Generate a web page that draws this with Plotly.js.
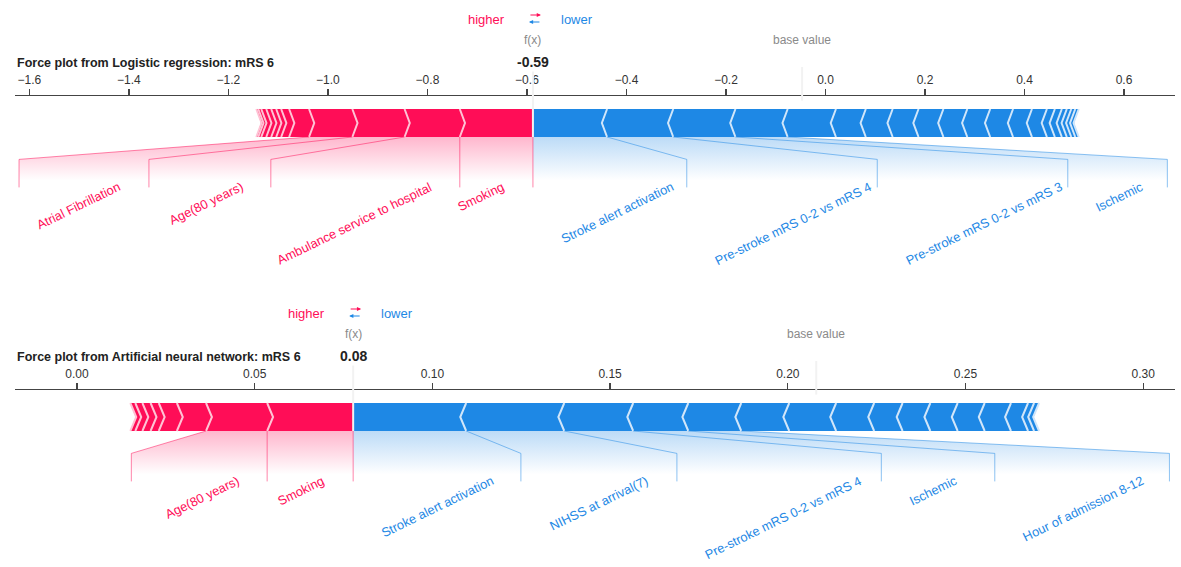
<!DOCTYPE html>
<html><head><meta charset="utf-8">
<script src="https://cdn.plot.ly/plotly-3.0.1.min.js"></script>
<style>html,body{margin:0;padding:0;background:#fff}#chart{width:1181px;height:567px}</style>
</head><body><div id="chart"></div>
<script>
// ---------------- data ----------------
const lrTitle = 'Force plot from Logistic regression: mRS 6';
const lrBase = -0.047;
const lrPosVals = [0.147, 0.111, 0.105, 0.087, 0.040, 0.016, 0.010, 0.010, 0.010, 0.010, 0.006, 0.004];
const lrPosNames = ['Smoking', 'Ambulance service to hospital', 'Age(80 years)', 'Atrial Fibrillation'];
const lrNegVals = [0.149, 0.133, 0.125, 0.105, 0.097, 0.060, 0.054, 0.052, 0.050, 0.048, 0.046, 0.046, 0.038, 0.030, 0.016, 0.014, 0.010, 0.009, 0.008, 0.007];
const lrNegNames = ['Stroke alert activation', 'Pre-stroke mRS 0-2 vs mRS 4', 'Pre-stroke mRS 0-2 vs mRS 3', 'Ischemic'];

const annTitle = 'Force plot from Artificial neural network: mRS 6';
const annBase = 0.208;
const annPosVals = [0.0242, 0.0172, 0.0082, 0.0051, 0.0023, 0.0023, 0.0020, 0.0014];
const annPosNames = ['Smoking', 'Age(80 years)'];
const annNegVals = [0.0318, 0.0276, 0.0194, 0.0155, 0.0149, 0.0135, 0.0132, 0.0107, 0.0080, 0.0078, 0.0077, 0.0076, 0.0074, 0.0048, 0.0017, 0.0014];
const annNegNames = ['Stroke alert activation', 'NIHSS at arrival(7)', 'Pre-stroke mRS 0-2 vs mRS 4', 'Ischemic', 'Hour of admission 8-12'];

// ---------------- style / layout ----------------
const W = 1181, H = 567;
const FONT = '"Liberation Sans", Arial, Helvetica, sans-serif';
const RED = '#FF0D57', BLUE = '#1E88E5';
const RED_SEP = '#FFC3D5', BLUE_SEP = '#D1E6FA';
const RED_LINE = 'rgba(255,13,87,0.5)', BLUE_LINE = 'rgba(30,136,229,0.5)';
const RED_SHADE = 'rgb(255,182,205)', BLUE_SHADE = 'rgb(188,219,247)';
const PX_L = 15, PX_R = 1175;   // axis extent in px
const YS = 280;                  // px per y unit
const LF = 12.8, ANG = 26;       // label font size / rotation
const REG_K = 0.748;             // label box growth per px of text
const TEXT_GAP = 26;             // px between chain start and label box
const WB = 0.1;                  // bar thickness (y units)

const panels = [
  {title: lrTitle, base: lrBase, pos: lrPosVals, posNames: lrPosNames, neg: lrNegVals, negNames: lrNegNames,
   range: [-1.629, 0.7025], dtick: 0.2, fmt: '.1f', top: 0, bottom: 283, zeroPx: 137, wc: -4, titleY: 63},
  {title: annTitle, base: annBase, pos: annPosVals, posNames: annPosNames, neg: annNegVals, negNames: annNegNames,
   range: [-0.01745, 0.30895], dtick: 0.05, fmt: '.2f', top: 294, bottom: 567, zeroPx: 431, wc: 3, titleY: 357}
];

const cv = document.createElement('canvas').getContext('2d');
function textW(s, size) {
  cv.font = size + 'px "Liberation Sans", Arial, sans-serif';
  const m = cv.measureText(s).width;
  return m > 0 ? m : s.length * size * 0.5;
}
const sum = a => a.reduce((s, v) => s + v, 0);

const traces = [];
const annotations = [];
const layout = {
  width: W, height: H, margin: {l: 0, r: 0, t: 0, b: 0},
  paper_bgcolor: '#fff', plot_bgcolor: 'rgba(0,0,0,0)', showlegend: false,
  font: {family: FONT, size: 12, color: '#333'},
  annotations: annotations, shapes: []
};

panels.forEach((p, i) => {
  const sfx = i === 0 ? '' : '2';
  const xa = 'x' + sfx, ya = 'y' + sfx;
  const pxu = (PX_R - PX_L) / (p.range[1] - p.range[0]);
  const yTop = (p.zeroPx - p.top) / YS, yBot = (p.zeroPx - p.bottom) / YS;

  layout['xaxis' + sfx] = {
    domain: [PX_L / W, PX_R / W], range: p.range, anchor: 'free',
    position: 1 - (p.zeroPx - 0.15 * YS) / H, side: 'top',
    showline: true, linecolor: '#444', linewidth: 1.2,
    ticks: 'outside', ticklen: 6, tickwidth: 1.2, tickcolor: '#444',
    tick0: 0, dtick: p.dtick, tickformat: p.fmt,
    showgrid: false, zeroline: false, fixedrange: true, layer: 'below traces',
    tickfont: {family: FONT, size: 12, color: '#333'}
  };
  layout['yaxis' + sfx] = {
    domain: [1 - p.bottom / H, 1 - p.top / H], range: [yBot, yTop],
    visible: false, fixedrange: true, showgrid: false, zeroline: false
  };

  const sumPos = sum(p.pos), sumNeg = sum(p.neg);
  const out = p.base + sumPos - sumNeg;
  const posCum = []; let v = out; p.pos.forEach(d => { v -= d; posCum.push(v); });
  const negCum = []; v = out; p.neg.forEach(d => { v += d; negCum.push(v); });

  const padX = 0.2 * Math.max(sumPos, sumNeg);
  const minX = Math.min(out - sumPos, p.base) - padX;
  const maxX = Math.max(out + sumNeg, p.base) + padX;
  const ind = (maxX - minX) / 200;
  const off = 0.04 * (sumPos + sumNeg);   // label offset, data units

  function bars(cum, sign) {
    const xs = [], ys = [], sx = [], sy = [];
    let pre = out;
    cum.forEach((c, k) => {
      let L, R, si, sp;
      if (sign > 0) { L = c; R = pre; si = ind; sp = L; }
      else { L = pre; R = c; si = -ind; sp = R; }
      pre = c;
      let pts;
      if (k === 0) {
        pts = sign > 0 ? [[L, 0], [R, 0], [R, WB], [L, WB], [L + si, WB / 2]]
                       : [[R, 0], [L, 0], [L, WB], [R, WB], [R + si, WB / 2]];
      } else {
        pts = [[L, 0], [R, 0], [R + si * 0.9, WB / 2], [R, WB], [L, WB], [L + si * 0.9, WB / 2]];
      }
      pts.forEach(q => { xs.push(q[0]); ys.push(q[1]); });
      xs.push(null); ys.push(null);
      sx.push(sp, sp + si, sp, null); sy.push(0, WB / 2, WB, null);
    });
    return {xs, ys, sx, sy};
  }

  function labels(cum, names, sign, color, shadeColor) {
    const lx = [], ly = [];
    let start = out, pre = out, boxEnd = out;
    if (sign > 0) { lx.push(out, out, null); ly.push(0, -0.18, null); }
    names.forEach((nm, k) => {
      const val = cum[k];
      const boxW = (REG_K * textW(nm, LF) + p.wc) / pxu;
      annotations.push({
        x: start - sign * TEXT_GAP / pxu, y: -0.15, xref: xa, yref: ya, text: nm, showarrow: false,
        textangle: -ANG, xanchor: sign > 0 ? 'right' : 'left', yanchor: 'top',
        borderpad: 0, borderwidth: 0, font: {family: FONT, size: LF, color: color}
      });
      const far = start - sign * (off + boxW);
      if (sign * far > sign * val) {
        lx.push(val, val, null); ly.push(0, -0.18, null);
        start = val; boxEnd = val;
      } else {
        boxEnd = far - sign * off;
        lx.push(val, boxEnd, boxEnd, null); ly.push(0, -0.08, -0.18, null);
        start = boxEnd;
      }
      pre = val;
    });
    traces.push({
      type: 'scatter', mode: 'lines', xaxis: xa, yaxis: ya, hoverinfo: 'skip',
      x: [out, pre, boxEnd, boxEnd, out, out], y: [0, 0, -0.08, -0.2, -0.2, 0],
      fill: 'toself', line: {width: 0, color: 'rgba(0,0,0,0)'},
      fillcolor: shadeColor,
      fillgradient: {type: 'vertical', start: -0.155, stop: 0,
                     colorscale: [[0, 'rgb(255,255,255)'], [1, shadeColor]]}
    });
    return {lx, ly};
  }

  const redLab = labels(posCum, p.posNames, 1, RED, RED_SHADE);
  const blueLab = labels(negCum, p.negNames, -1, BLUE, BLUE_SHADE);

  const rb = bars(posCum, 1), bb = bars(negCum, -1);
  const ln = (x, y, line, extra) => Object.assign({type: 'scatter', mode: 'lines', xaxis: xa, yaxis: ya,
    hoverinfo: 'skip', x: x, y: y, line: line}, extra || {});
  traces.push(ln(rb.xs, rb.ys, {width: 0, color: RED}, {fill: 'toself', fillcolor: RED}));
  traces.push(ln(bb.xs, bb.ys, {width: 0, color: BLUE}, {fill: 'toself', fillcolor: BLUE}));
  traces.push(ln(rb.sx, rb.sy, {width: 2, color: RED_SEP}));
  traces.push(ln(bb.sx, bb.sy, {width: 2, color: BLUE_SEP}));
  traces.push(ln(redLab.lx, redLab.ly, {width: 1, color: RED_LINE}));
  traces.push(ln(blueLab.lx, blueLab.ly, {width: 1, color: BLUE_LINE}));
  traces.push(ln([out, out, null, p.base, p.base], [0, 0.24, null, 0.13, 0.25], {width: 2, color: '#F2F2F2'}));

  const tx = (x, y, text, size, color, xanchor, extra) => Object.assign({
    x: x, y: y, xref: xa, yref: ya, text: text, showarrow: false, xanchor: xanchor || 'center',
    yanchor: 'middle', yshift: 0.35 * size, borderpad: 0,
    font: {family: FONT, size: size, color: color}}, extra || {});

  annotations.push(tx(out, 0.405, 'higher', 13, RED, 'right', {xshift: -27}));
  annotations.push(tx(out, 0.405, 'lower', 13, BLUE, 'left', {xshift: 27}));
  // ⇄ drawn as two small arrows (red → above, blue ← below)
  const arrow = (y, dir, color) => ({
    x: out, y: y, xref: xa, yref: ya, text: '', showarrow: true,
    ax: -dir * 12, ay: 0, axref: 'pixel', ayref: 'pixel',
    xshift: 2 + dir * 6, yshift: 3,
    arrowhead: 2, arrowsize: 0.7, arrowwidth: 1.2, arrowcolor: color, standoff: 0, startstandoff: 0
  });
  annotations.push(arrow(0.425, 1, RED));
  annotations.push(arrow(0.40, -1, BLUE));
  annotations.push(tx(out, 0.33, 'f(x)', 12, '#8a8a8a', 'center'));
  annotations.push(tx(out, 0.25, '<b>' + out.toFixed(2) + '</b>', 14, '#222', 'center', {bgcolor: '#fff', borderpad: 1}));
  annotations.push(tx(p.base, 0.33, 'base value', 12, '#8a8a8a', 'center'));
  annotations.push({x: 15 / W, y: 1 - p.titleY / H, xref: 'paper', yref: 'paper', showarrow: false,
    xanchor: 'left', yanchor: 'middle', text: '<b>' + p.title + '</b>',
    font: {family: FONT, size: 12.5, color: '#222'}});
});

Plotly.newPlot('chart', traces, layout, {staticPlot: true, displayModeBar: false});
</script>
</body></html>
